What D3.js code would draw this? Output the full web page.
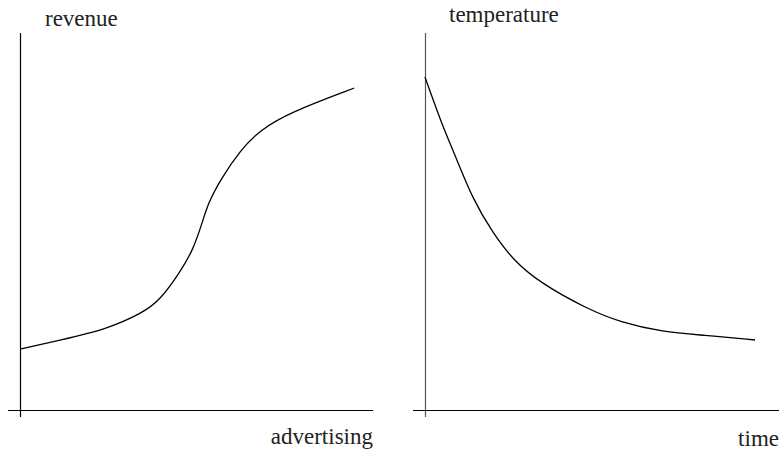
<!DOCTYPE html>
<html>
<head>
<meta charset="utf-8">
<script src="https://cdn.jsdelivr.net/npm/d3@7"></script>
<style>
  body { margin: 0; background: #fff; }
</style>
</head>
<body>
<div id="chart"></div>
<script>
// left panel: revenue vs advertising (S-curve)
var advertising = [0, 1.15, 2.45, 3.5, 4.0, 4.55, 4.95, 5.23, 5.38, 5.72, 6.3, 6.86, 7.7, 9.55];
var revenue     = [1.74, 2.0, 2.3, 2.77, 3.14, 3.91, 4.57, 5.43, 5.91, 6.57, 7.43, 8.0, 8.5, 9.2];

// right panel: temperature vs time (decay)
var time        = [0, 0.51, 0.8, 1.37, 1.94, 2.51, 3.29, 4.63, 5.57, 6.8, 7.94, 9.43];
var temperature = [9.51, 8.09, 7.43, 6.0, 5.06, 4.29, 3.63, 2.89, 2.51, 2.23, 2.14, 2.0];

var panels = [
    { xs: advertising, ys: revenue, left: 20, xLabel: "advertising", yLabel: "revenue",
      axisStart: 8, axisEnd: 373, yLabelX: 45, yLabelY: 26, xLabelY: 444, yColor: "#000", yAxisX: 20.5 },
    { xs: time, ys: temperature, left: 425, xLabel: "time", yLabel: "temperature",
      axisStart: 413, axisEnd: 779, yLabelX: 449, yLabelY: 22, xLabelY: 446, yColor: "#555", yAxisX: 425.5 }
];

var svg = d3.select("#chart")
    .append("svg")
    .attr("width", 779)
    .attr("height", 451);

var axisY = 410;

panels.forEach(function (p) {
    var xScale = d3.scaleLinear().domain([0, 10]).range([p.left, p.left + 350]);
    var yScale = d3.scaleLinear().domain([0, 10]).range([axisY, axisY - 350]);

    var g = svg.append("g");

    // y axis
    g.append("line")
        .attr("x1", p.yAxisX).attr("x2", p.yAxisX)
        .attr("y1", 33).attr("y2", 417)
        .attr("stroke", p.yColor)
        .attr("stroke-width", 1.2);

    // x axis
    g.append("line")
        .attr("x1", p.axisStart).attr("x2", p.axisEnd)
        .attr("y1", axisY + 0.5).attr("y2", axisY + 0.5)
        .attr("stroke", "#000")
        .attr("stroke-width", 1.2);

    var pts = p.xs.map(function (x, i) { return [x, p.ys[i]]; });

    // b-spline smooths out the reading noise in the points
    var line = d3.line()
        .x(function (d) { return xScale(d[0]); })
        .y(function (d) { return yScale(d[1]); })
        .curve(d3.curveBasis);

    g.append("path")
        .datum(pts)
        .attr("fill", "none")
        .attr("stroke", "#000")
        .attr("stroke-width", 1.3)
        .attr("d", line);

    g.append("text")
        .attr("x", p.yLabelX)
        .attr("y", p.yLabelY)
        .attr("font-family", "'Liberation Serif', 'DejaVu Serif', serif")
        .attr("font-size", 23)
        .attr("fill", "#222")
        .text(p.yLabel);

    g.append("text")
        .attr("x", p.axisEnd)
        .attr("y", p.xLabelY)
        .attr("text-anchor", "end")
        .attr("font-family", "'Liberation Serif', 'DejaVu Serif', serif")
        .attr("font-size", 23)
        .attr("fill", "#222")
        .text(p.xLabel);
});
</script>
</body>
</html>
